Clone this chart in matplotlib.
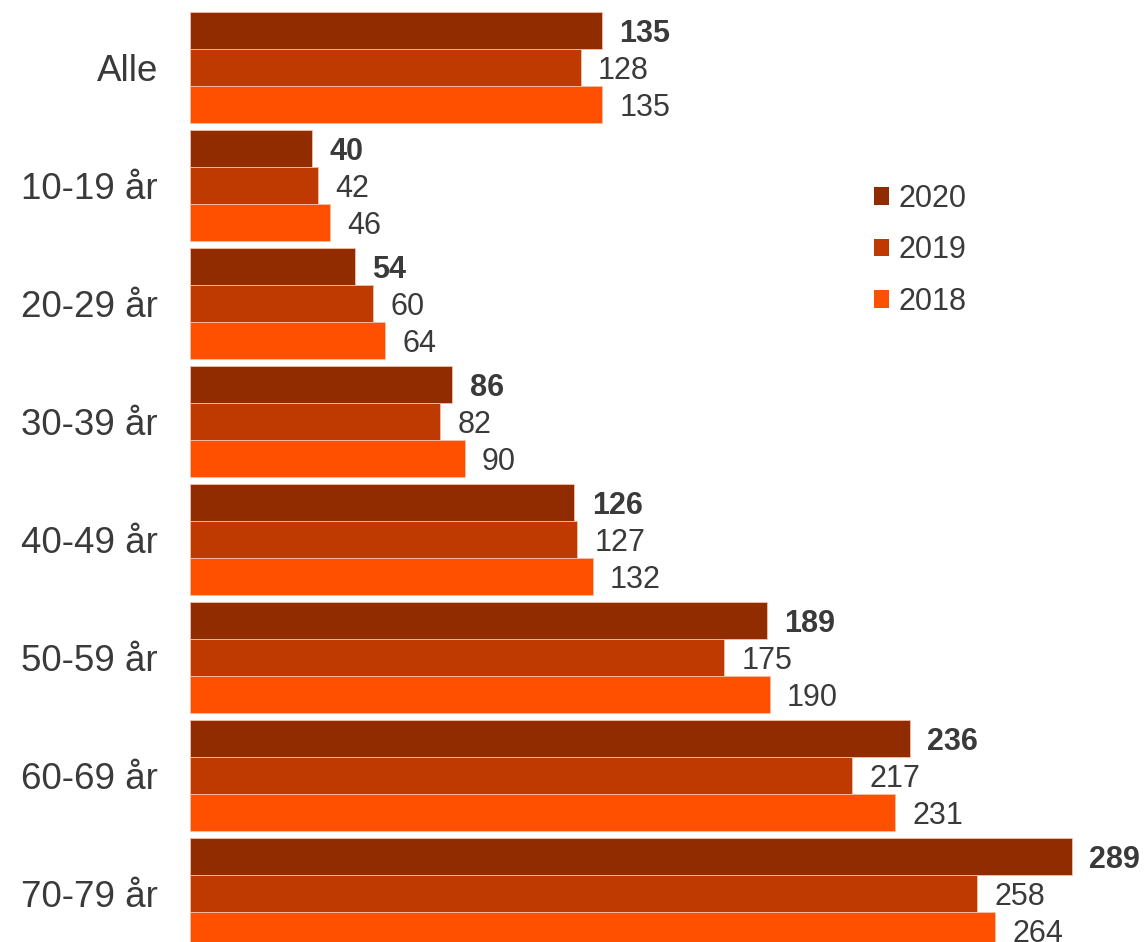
import matplotlib
matplotlib.use("Agg")
import matplotlib.pyplot as plt
from matplotlib.patches import Patch
import numpy as np

categories = ["Alle", "10-19 år", "20-29 år", "30-39 år", "40-49 år", "50-59 år", "60-69 år", "70-79 år"]
years = ["2020", "2019", "2018"]
v2020 = [135, 40, 54, 86, 126, 189, 236, 289]
v2019 = [128, 42, 60, 82, 127, 175, 217, 258]
v2018 = [135, 46, 64, 90, 132, 190, 231, 264]
colors = ["#902C00", "#BF3A00", "#FF5000"]

plt.rcParams['font.family'] = ['Liberation Sans', 'DejaVu Sans']
txt_color = "#3A3A3A"

fig = plt.figure(figsize=(11.45, 9.42), dpi=100)
ax = fig.add_axes([190/1145, 0, 955/1145, 1])

y = np.arange(len(categories))
h = 0.3136
series = [v2020, v2019, v2018]
offsets = [-h, 0, h]
for s, (vals, col, off, yr) in enumerate(zip(series, colors, offsets, years)):
    bars = ax.barh(y + off, vals, height=h, color=col, edgecolor="#F3C0A8",
                   linewidth=0.6, label=yr)
    for b, v in zip(bars, vals):
        ax.annotate(str(v), (b.get_width(), b.get_y() + b.get_height()/2),
                    xytext=(12.5, -2), textcoords="offset points",
                    va="center", ha="left", fontsize=22, color=txt_color,
                    fontweight="bold" if s == 0 else "normal")

ax.set_xlim(0, 313)
ax.set_ylim(7.407, -0.576)
ax.set_yticks(y)
ax.set_yticklabels(categories, fontsize=26.5, color=txt_color)
ax.tick_params(axis="y", length=0, pad=23)
ax.set_xticks([])
for sp in ax.spines.values():
    sp.set_visible(False)

handles = [Patch(facecolor=c, edgecolor="none") for c in colors]
leg = ax.legend(handles, years, loc="upper left", bbox_to_anchor=((874-190)/955, 1-184/942),
                frameon=False, fontsize=22, handlelength=0.5, handleheight=0.5,
                handletextpad=0.3, labelspacing=0.7, borderaxespad=0, borderpad=0)
for t in leg.get_texts():
    t.set_color(txt_color)

fig.savefig("out.png", dpi=100)
